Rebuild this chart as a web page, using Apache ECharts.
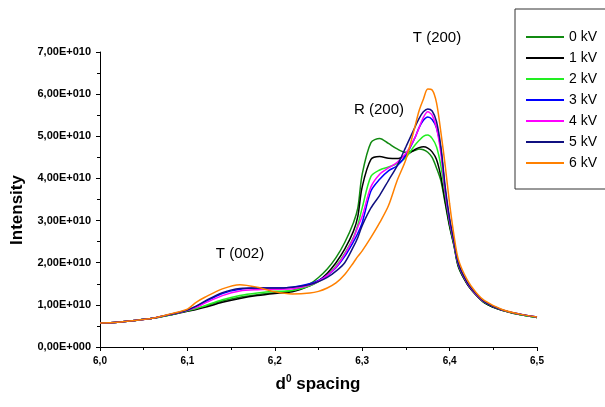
<!DOCTYPE html>
<html>
<head>
<meta charset="utf-8">
<script src="https://cdn.jsdelivr.net/npm/echarts@6/dist/echarts.min.js"></script>
<style>html,body{margin:0;padding:0;background:#fff}#c{width:605px;height:407px}</style>
</head>
<body>
<div id="c"></div>
<script>
// d-spacing values (x)
const dSpacing = [6.00,6.02,6.04,6.06,6.08,6.10,6.11,6.12,6.14,6.16,6.18,6.20,6.22,6.24,6.25,6.26,6.27,6.28,6.29,6.295,6.30,6.31,6.32,6.33,6.34,6.35,6.36,6.365,6.37,6.375,6.38,6.385,6.39,6.395,6.40,6.405,6.41,6.42,6.43,6.44,6.46,6.48,6.50];
// intensities in units of 1E+010
const kV0 = [.57,.59,.63,.68,.76,.86,.91,.97,1.09,1.18,1.24,1.29,1.34,1.50,1.65,1.85,2.12,2.48,2.95,3.30,4.10,4.85,4.95,4.83,4.70,4.62,4.66,4.70,4.68,4.62,4.50,4.25,3.95,3.40,2.85,2.40,1.90,1.50,1.24,1.05,0.87,0.77,0.70];
const kV1 = [.57,.59,.63,.68,.76,.85,.89,.94,1.06,1.15,1.22,1.27,1.31,1.45,1.57,1.75,2.00,2.32,2.75,3.10,3.80,4.45,4.52,4.48,4.47,4.55,4.68,4.73,4.75,4.72,4.63,4.45,4.05,3.45,2.88,2.42,1.92,1.50,1.24,1.05,0.87,0.77,0.70];
const kV2 = [.57,.59,.63,.68,.76,.86,.91,.98,1.12,1.22,1.28,1.32,1.34,1.45,1.55,1.70,1.92,2.22,2.60,2.90,3.30,4.05,4.20,4.27,4.35,4.50,4.78,4.90,5.00,5.03,4.95,4.75,4.30,3.60,2.95,2.45,1.95,1.52,1.25,1.06,0.88,0.77,0.70];
const kV3 = [.57,.59,.63,.68,.77,.88,.96,1.07,1.27,1.37,1.40,1.40,1.42,1.50,1.58,1.70,1.88,2.15,2.50,2.70,2.95,3.70,3.98,4.18,4.30,4.55,4.95,5.20,5.38,5.46,5.40,5.20,4.70,3.70,3.00,2.48,1.97,1.53,1.26,1.07,0.88,0.78,0.71];
const kV4 = [.57,.59,.63,.68,.77,.87,.94,1.04,1.22,1.33,1.36,1.37,1.38,1.47,1.56,1.70,1.90,2.20,2.58,2.85,3.10,3.80,4.10,4.25,4.38,4.60,4.95,5.20,5.45,5.58,5.50,5.20,4.60,3.70,3.00,2.48,1.97,1.53,1.26,1.07,0.88,0.78,0.71];
const kV5 = [.57,.59,.63,.68,.77,.88,.97,1.09,1.29,1.39,1.40,1.40,1.42,1.48,1.55,1.65,1.80,2.00,2.38,2.60,2.88,3.30,3.60,3.95,4.30,4.75,5.20,5.42,5.58,5.65,5.60,5.35,4.75,3.80,3.05,2.50,1.98,1.54,1.27,1.07,0.88,0.78,0.71];
const kV6 = [.57,.59,.63,.68,.78,.90,1.06,1.18,1.38,1.48,1.42,1.31,1.26,1.28,1.32,1.40,1.52,1.72,2.00,2.15,2.28,2.60,2.95,3.35,3.95,4.45,5.20,5.60,5.88,6.12,6.10,5.80,5.10,4.30,3.40,2.65,2.08,1.60,1.30,1.10,0.89,0.78,0.71];
const seriesNames = ['0 kV','1 kV','2 kV','3 kV','4 kV','5 kV','6 kV'];
const xTicks = [6.0, 6.5, 0.1];
const yTicks = [0, 7, 1];

const seriesValues = [kV0,kV1,kV2,kV3,kV4,kV5,kV6];
const colors = ['#118a11','#000000','#22ee22','#0000ff','#ff00ff','#101080','#ff8000'];
const FONT = 'Liberation Sans, Arial, sans-serif';

const chart = echarts.init(document.getElementById('c'), null, {renderer:'canvas'});
chart.setOption({
  animation:false,
  backgroundColor:'#fff',
  grid:{left:100, right:68, top:52, bottom:60},
  xAxis:{
    type:'value', min:xTicks[0], max:xTicks[1], interval:xTicks[2],
    axisLine:{lineStyle:{color:'#000', width:1}},
    axisTick:{show:true, inside:false, length:4, lineStyle:{color:'#000'}},
    minorTick:{show:true, splitNumber:2, length:3, lineStyle:{color:'#000'}},
    splitLine:{show:false},
    axisLabel:{margin:9, color:'#000', fontWeight:'bold', fontSize:10, fontFamily:FONT,
      formatter:v=>v.toFixed(1).replace('.',',')}
  },
  yAxis:{
    type:'value', min:yTicks[0], max:yTicks[1], interval:yTicks[2],
    axisLine:{show:true, lineStyle:{color:'#000', width:1}},
    axisTick:{show:true, inside:false, length:4, lineStyle:{color:'#000'}},
    minorTick:{show:true, splitNumber:2, length:3, lineStyle:{color:'#000'}},
    splitLine:{show:false},
    axisLabel:{margin:9, color:'#000', fontWeight:'bold', fontSize:11, fontFamily:FONT,
      formatter:v=> v===0 ? '0,00E+000' : v.toFixed(2).replace('.',',')+'E+010'}
  },
  legend:{
    orient:'vertical', left:515, top:9,
    itemWidth:38, itemHeight:14, itemGap:7,
    padding:[21,20,19,10],
    borderColor:'#333', borderWidth:1,
    itemStyle:{opacity:0},
    textStyle:{fontSize:14, color:'#000', fontFamily:FONT},
    data:seriesNames
  },
  series: seriesNames.map((n,i)=>({
    name:n, type:'line', symbol:'none', showSymbol:false, smooth:0.3,
    color:colors[i],
    lineStyle:{width:1.5, color:colors[i]},
    data: dSpacing.map((x,j)=>[x, seriesValues[i][j]])
  })),
  graphic:[
    {type:'text', x:240, y:254, style:{text:'T (002)', font:'15px '+FONT, fill:'#000', align:'center', verticalAlign:'middle'}},
    {type:'text', x:379, y:110, style:{text:'R (200)', font:'15px '+FONT, fill:'#000', align:'center', verticalAlign:'middle'}},
    {type:'text', x:437, y:38, style:{text:'T (200)', font:'15px '+FONT, fill:'#000', align:'center', verticalAlign:'middle'}},
    {type:'text', x:17, y:210, rotation:Math.PI/2, style:{text:'Intensity', font:'bold 17px '+FONT, fill:'#000', align:'center', verticalAlign:'middle'}},
    {type:'text', x:318, y:384, style:{text:'{b|d}{s|0}{b| spacing}', fill:'#000', align:'center', verticalAlign:'middle',
      rich:{b:{font:'bold 17px '+FONT, fill:'#000'}, s:{font:'bold 10px '+FONT, fill:'#000', verticalAlign:'bottom', padding:[0,0,9,0]}}}}
  ]
});
</script>
</body>
</html>
